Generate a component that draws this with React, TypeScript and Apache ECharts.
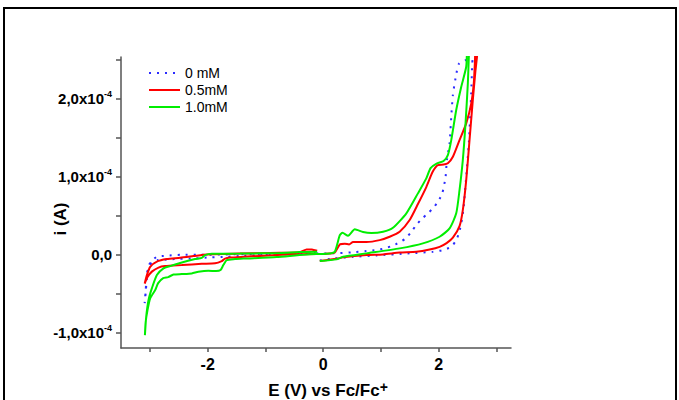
import React, { useEffect, useRef } from "react";
import * as echarts from "echarts";

// Legend / series names
const seriesNames = ["0 mM", "0.5mM", "1.0mM"];
const seriesColors = ["#2b2bff", "#ff0000", "#00ee00"];

// Axis ticks and labels (potential in V, current in units of 1e-4 A)
const xTickValues = [-3, -2, -1, 0, 1, 2, 3];
const xLabelValues = [-2, 0, 2];
const yTickValues = [-1, -0.5, 0, 0.5, 1, 1.5, 2, 2.5];
const yLabelValues = [-1, 0, 1, 2];

// [E (V vs Fc/Fc+), i (x1e-4 A)] in sweep order
const cv0mM: number[][] = [
  [-0.059, -0.079], [0.171, -0.054], [0.516, -0.031], [0.921, -0.013], [1.496, 0.013], [1.898, 0.033],
  [2.071, 0.055], [2.216, 0.097], [2.302, 0.183], [2.347, 0.269], [2.389, 0.397], [2.428, 0.59],
  [2.475, 0.995], [2.52, 1.423], [2.561, 2.064], [2.579, 2.449], [2.584, 2.49],
  [2.475, 2.491], [2.347, 2.44], [2.29, 2.256], [2.244, 2.042], [2.216, 1.764], [2.187, 1.423],
  [2.14, 1.209], [2.118, 0.995], [2.06, 0.782], [1.984, 0.674], [1.898, 0.59], [1.812, 0.526],
  [1.698, 0.449], [1.611, 0.376], [1.525, 0.29], [1.427, 0.205], [1.323, 0.154], [1.18, 0.106],
  [1.064, 0.077], [0.921, 0.055], [0.748, 0.042], [0.489, 0.026], [0.171, 0.013], [-0.007, 0.01],
  [-0.116, 0.013], [-0.577, 0.004], [-1.383, -0.018], [-1.67, -0.031], [-1.959, -0.038], [-2.218, -0.051],
  [-2.506, -0.056], [-2.649, -0.064], [-2.857, -0.073], [-2.966, -0.099], [-3.024, -0.179], [-3.055, -0.329],
  [-3.073, -0.496], [-3.09, -0.624],
  [-3.073, -0.458], [-3.047, -0.227], [-2.995, -0.108], [-2.879, -0.031], [-2.724, -0.018], [-2.447, -0.005],
  [-2.161, -0.005], [-1.613, 0.0], [-0.922, 0.006], [-0.404, 0.013], [-0.105, 0.017],
];

const cv05mM: number[][] = [
  [-0.059, -0.086], [0.23, -0.056], [0.344, -0.038], [0.748, -0.009], [1.035, 0.0], [1.323, 0.023],
  [1.611, 0.033], [1.841, 0.062], [2.014, 0.097], [2.135, 0.145], [2.244, 0.215], [2.359, 0.363],
  [2.416, 0.568], [2.475, 0.953], [2.532, 1.465], [2.589, 1.978], [2.636, 2.363], [2.661, 2.529], [2.679, 2.68],
  [2.636, 2.68], [2.627, 2.491], [2.606, 2.196], [2.562, 1.936], [2.475, 1.679], [2.359, 1.465], [2.244, 1.251],
  [2.157, 1.167], [2.083, 1.151], [1.984, 1.145], [1.892, 1.055], [1.784, 0.863], [1.639, 0.645],
  [1.496, 0.44], [1.323, 0.29], [1.15, 0.226], [0.978, 0.183], [0.748, 0.158], [0.516, 0.158],
  [0.447, 0.128], [0.373, 0.136], [0.287, 0.128], [0.2, 0.023], [0.114, 0.01], [-0.007, 0.004],
  [-0.116, 0.004], [-0.807, -0.009], [-1.383, -0.031], [-1.613, -0.041], [-1.699, -0.054], [-1.756, -0.086],
  [-1.872, -0.115], [-2.102, -0.121], [-2.447, -0.137], [-2.736, -0.15], [-2.851, -0.169], [-2.966, -0.221],
  [-3.041, -0.291], [-3.09, -0.374],
  [-3.052, -0.265], [-2.995, -0.159], [-2.879, -0.092], [-2.706, -0.06], [-2.477, -0.044], [-2.247, -0.022],
  [-2.016, 0.0], [-1.44, 0.01], [-0.75, 0.021], [-0.404, 0.029], [-0.288, 0.064], [-0.197, 0.062], [-0.105, 0.046],
];

const cv10mM: number[][] = [
  [-0.059, -0.086], [0.23, -0.064], [0.344, -0.031], [0.748, 0.013], [1.323, 0.077], [1.725, 0.141],
  [2.014, 0.226], [2.187, 0.333], [2.302, 0.526], [2.359, 0.824], [2.416, 1.209], [2.463, 1.679],
  [2.503, 2.192], [2.52, 2.529], [2.532, 2.68],
  [2.497, 2.68], [2.475, 2.405], [2.389, 2.149], [2.302, 1.85], [2.216, 1.465], [2.157, 1.273],
  [2.083, 1.196], [1.962, 1.164], [1.858, 1.106], [1.784, 0.974], [1.639, 0.782], [1.439, 0.526],
  [1.207, 0.341], [1.035, 0.29], [0.834, 0.273], [0.689, 0.286], [0.546, 0.321], [0.43, 0.238],
  [0.333, 0.277], [0.287, 0.247], [0.2, 0.033], [0.114, 0.01], [-0.007, 0.004],
  [-0.116, 0.004], [-0.807, -0.035], [-1.383, -0.054], [-1.527, -0.06], [-1.67, -0.073], [-1.729, -0.137],
  [-1.777, -0.201], [-1.855, -0.214], [-1.988, -0.21], [-2.161, -0.223], [-2.275, -0.244], [-2.447, -0.253],
  [-2.592, -0.259], [-2.684, -0.291], [-2.77, -0.304], [-2.857, -0.368], [-2.909, -0.458], [-2.995, -0.564],
  [-3.041, -0.714], [-3.073, -0.868], [-3.086, -1.035],
  [-3.064, -0.8], [-3.024, -0.586], [-2.966, -0.436], [-2.879, -0.265], [-2.765, -0.179], [-2.649, -0.15],
  [-2.447, -0.103], [-2.218, -0.06], [-2.102, -0.044], [-2.045, -0.009], [-1.929, 0.008], [-1.44, 0.01],
  [-0.75, 0.017], [-0.404, 0.029], [-0.105, 0.033],
];

const FONT = "'Liberation Sans', Arial, Helvetica, sans-serif";
const AXIS_COLOR = "#555555";

export default function App() {
  const ref = useRef<HTMLDivElement>(null);

  useEffect(() => {
    if (!ref.current) return;
    const chart = echarts.init(ref.current, undefined, { renderer: "svg" });

    const datasets = [cv0mM, cv05mM, cv10mM];
    const series = datasets.map((d, i) => ({
      name: seriesNames[i],
      type: "line",
      data: d,
      symbol: "none",
      smooth: 0.2,
      clip: true,
      color: seriesColors[i],
      lineStyle:
        i === 0
          ? { color: seriesColors[i], width: 2, type: [2, 6], cap: "butt" }
          : { color: seriesColors[i], width: 2 },
      z: 2 + i,
    }));

    const fmtY = (v: number) => {
      const r = Math.round(v * 10) / 10;
      if (r === 0) return "{b|0,0}";
      return `{b|${r.toFixed(1).replace(".", ",")}x10}{s|-4}`;
    };

    chart.setOption({
      animation: false,
      backgroundColor: "#ffffff",
      textStyle: { fontFamily: FONT },
      grid: { left: 121, top: 57, width: 390, height: 291, containLabel: false, outerBoundsMode: "none" },
      legend: {
        orient: "vertical",
        left: 143,
        top: 61,
        itemWidth: 31,
        itemHeight: 14,
        itemGap: 3,
        data: seriesNames,
        itemStyle: { opacity: 0 },
        textStyle: { fontSize: 14, color: "#000", fontFamily: FONT },
      },
      xAxis: {
        type: "value",
        min: -3.5,
        max: 3.25,
        axisLine: { show: true, onZero: false, lineStyle: { color: AXIS_COLOR, width: 1.5 } },
        axisTick: {
          show: true,
          inside: false,
          length: 4,
          customValues: xTickValues,
          lineStyle: { color: AXIS_COLOR, width: 1.5 },
        },
        axisLabel: {
          customValues: xLabelValues,
          formatter: (v: number) => String(v),
          fontSize: 16,
          fontWeight: "bold",
          color: "#000",
          margin: 8,
          fontFamily: FONT,
        },
        splitLine: { show: false },
      },
      yAxis: {
        type: "value",
        min: -1.2,
        max: 2.53,
        axisLine: { show: true, onZero: false, lineStyle: { color: AXIS_COLOR, width: 1.5 } },
        axisTick: {
          show: true,
          inside: false,
          length: 5,
          customValues: yTickValues,
          lineStyle: { color: AXIS_COLOR, width: 1.5 },
        },
        axisLabel: {
          customValues: yLabelValues,
          formatter: fmtY,
          margin: 9,
          color: "#000",
          rich: {
            b: { fontSize: 15, fontWeight: "bold", color: "#000", fontFamily: FONT, lineHeight: 18 },
            s: { fontSize: 9, fontWeight: "bold", color: "#000", fontFamily: FONT, verticalAlign: "top", lineHeight: 10 },
          },
        },
        splitLine: { show: false },
      },
      graphic: [
        {
          type: "rect",
          silent: true,
          z: -10,
          shape: { x: 4, y: 8, width: 672, height: 400 },
          style: { fill: "none", stroke: "#000", lineWidth: 2 },
        },
        {
          type: "text",
          x: 328,
          y: 390,
          style: {
            text: "{a|E (V) vs Fc/Fc}{s|+}",
            align: "center",
            verticalAlign: "middle",
            rich: {
              a: { fontSize: 17, fontWeight: "bold", fill: "#000", fontFamily: FONT, lineHeight: 20 },
              s: { fontSize: 14, fontWeight: "bold", fill: "#000", fontFamily: FONT, verticalAlign: "top", lineHeight: 12 },
            },
          },
        },
        {
          type: "text",
          x: 60,
          y: 219,
          rotation: Math.PI / 2,
          style: {
            text: "i (A)",
            align: "center",
            verticalAlign: "middle",
            fontSize: 17,
            fontWeight: "bold",
            fill: "#000",
            fontFamily: FONT,
          },
        },
      ],
      series,
    });

    return () => chart.dispose();
  }, []);

  return (
    <div
      ref={ref}
      style={{ position: "fixed", left: 0, top: 0, width: 679, height: 400, background: "#fff" }}
    />
  );
}
